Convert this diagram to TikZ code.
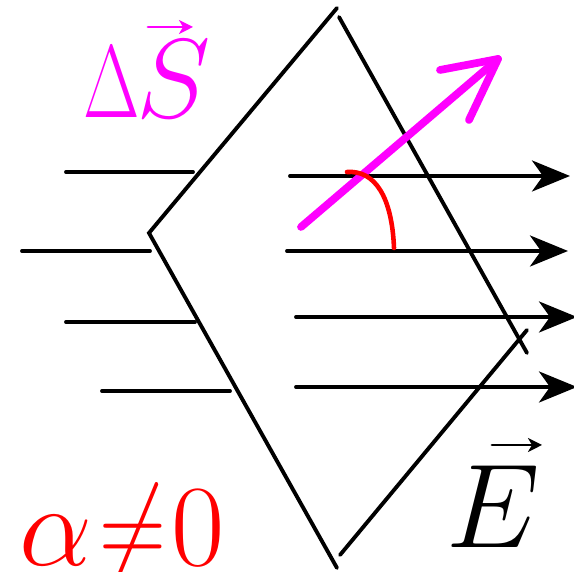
\RequirePackage{fix-cm}
\documentclass[tikz,border=0pt]{standalone}
\usetikzlibrary{arrows.meta}
\definecolor{flux}{RGB}{255,0,255}
\begin{document}
\begin{tikzpicture}[line width=1.1pt, line cap=round,
  field/.style={-{Stealth[length=3.8mm, width=3.1mm, inset=1.1mm]}},
  accent/.style={line width=0.8pt, -{Stealth[length=1.4mm, width=1.4mm, inset=0.4mm]}},
  big/.style={inner sep=0pt, anchor=base west}]
  \useasboundingbox (0.00,0.00) rectangle (5.74,5.72);
  % the surface, seen edge-on
  \draw (3.37,5.64) -- (1.49,3.39) -- (3.37,0.04);
  \draw (3.39,5.55) -- (5.27,2.19);
  \draw (5.27,2.42) -- (3.40,0.17);
  % field lines before the surface
  \draw (0.66,4.00) -- (1.93,4.00);
  \draw (0.22,3.21) -- (1.50,3.21);
  \draw (0.66,2.50) -- (1.95,2.50);
  \draw (1.02,1.81) -- (2.30,1.81);
  % field lines behind it
  \draw[field] (2.90,3.96) -- (5.70,3.96);
  \draw[field] (2.87,3.21) -- (5.68,3.21);
  \draw[field] (2.96,2.55) -- (5.77,2.55);
  \draw[field] (2.96,1.85) -- (5.77,1.85);
  % normal vector and angle
  \draw[flux, line width=2.2pt, line join=round] (3.01,3.45) -- (4.98,5.13);
  \draw[flux, line width=2.2pt, line join=round] (4.40,5.02) -- (4.98,5.13) -- (4.69,4.52);
  \draw[red, line width=1.3pt] (3.47,4.00) .. controls (3.75,4.02) and (3.92,3.75) .. (3.94,3.24);
  % labels
  \node[big, flux, font=\fontsize{32}{38}\selectfont] (dS) at (0.82,4.54)
    {\scalebox{0.65}[0.92]{$\Delta$}\kern-1pt$S$};
  \draw[accent, flux] (1.48,5.45) -- (1.93,5.45);
  \node[big, red, font=\fontsize{33}{40}\selectfont] (alpha) at (0.18,0.06)
    {$\alpha\kern2pt\mathord{\scalebox{0.8}[1]{$\neq$}}\kern1.5pt0$};
  \node[big, font=\fontsize{34}{40}\selectfont] (E) at (4.45,0.24) {$E$};
  \draw[accent] (4.92,1.27) -- (5.42,1.27);
\end{tikzpicture}
\end{document}
